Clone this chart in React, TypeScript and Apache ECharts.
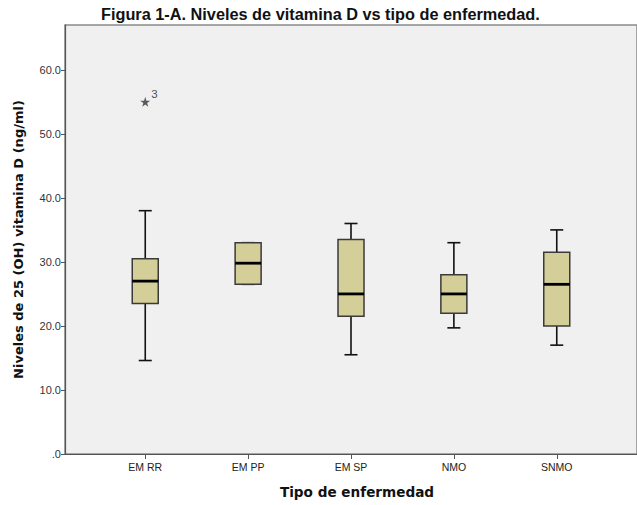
import React, { useEffect, useRef } from "react";
import * as echarts from "echarts";

const categories = ["EM RR", "EM PP", "EM SP", "NMO", "SNMO"];
const whiskerLow = [14.6, 26.5, 15.5, 19.7, 17.0];
const quartile1 = [23.5, 26.5, 21.5, 22.0, 20.0];
const medians = [27.0, 29.8, 25.0, 25.0, 26.5];
const quartile3 = [30.5, 33.0, 33.5, 28.0, 31.5];
const whiskerHigh = [38.0, 33.0, 36.0, 33.0, 35.0];
const outlierCategory = [0];
const outlierValues = [55.0];
const outlierLabels = ["3"];
const yTicks = [0, 10, 20, 30, 40, 50, 60];

const FONT = "'Liberation Sans', Arial, sans-serif";
const NAME_FONT = "'DejaVu Sans', Verdana, sans-serif";
const STAR =
  "path://M50,0 L61,35 L98,35 L68,57 L79,91 L50,70 L21,91 L32,57 L2,35 L39,35 Z";

export default function App() {
  const ref = useRef<HTMLDivElement>(null);
  useEffect(() => {
    document.body.style.margin = "0";
    const chart = echarts.init(ref.current!, null, { renderer: "svg" });
    const boxData = categories.map((_, i) => [
      i,
      whiskerLow[i],
      quartile1[i],
      medians[i],
      quartile3[i],
      whiskerHigh[i],
    ]);
    const outData = outlierCategory.map((c, i) => ({
      value: [c, outlierValues[i]],
      label: { formatter: outlierLabels[i] },
    }));
    chart.setOption({
      animation: false,
      backgroundColor: "#ffffff",
      textStyle: { fontFamily: FONT },
      title: {
        text: "Figura 1-A. Niveles de vitamina D vs tipo de enfermedad.",
        left: 96,
        top: 1,
        textStyle: { fontFamily: FONT, fontSize: 16.3, fontWeight: "bold", color: "#111" },
      },
      grid: {
        left: 65,
        right: -4,
        top: 25,
        bottom: 51,
        show: true,
        backgroundColor: "#f0f0f0",
        borderColor: "#8a8a8a",
        borderWidth: 1.5,
      },
      xAxis: {
        type: "value",
        min: -0.78,
        max: 4.78,
        name: "Tipo de enfermedad",
        nameLocation: "middle",
        nameGap: 31,
        nameTextStyle: {
          fontFamily: NAME_FONT,
          fontSize: 13.6,
          fontWeight: "bold",
          color: "#111",
          padding: [0, 0, 0, 12],
        },
        splitLine: { show: false },
        axisLine: { show: true, onZero: false, lineStyle: { color: "#555", width: 1.2 } },
        axisTick: {
          show: true,
          length: 5,
          customValues: categories.map((_, i) => i),
          lineStyle: { color: "#555" },
        },
        axisLabel: {
          customValues: categories.map((_, i) => i),
          formatter: (v: number) => categories[Math.round(v)] ?? "",
          fontFamily: FONT,
          fontSize: 10.5,
          color: "#222",
          margin: 7,
        },
      },
      yAxis: {
        type: "value",
        min: 0,
        max: 67,
        name: "Niveles de 25 (OH) vitamina D (ng/ml)",
        nameLocation: "middle",
        nameGap: 40,
        nameTextStyle: { fontFamily: NAME_FONT, fontSize: 13, fontWeight: "bold", color: "#111" },
        splitLine: { show: false },
        axisLine: { show: true, onZero: false, lineStyle: { color: "#555", width: 1.2 } },
        axisTick: { show: true, length: 4, customValues: yTicks, lineStyle: { color: "#555" } },
        axisLabel: {
          customValues: yTicks,
          formatter: (v: number) => (v === 0 ? ".0" : v.toFixed(1)),
          fontFamily: FONT,
          fontSize: 11,
          color: "#333",
          margin: 4,
        },
      },
      series: [
        {
          type: "custom",
          data: boxData,
          encode: { x: 0, y: [1, 2, 3, 4, 5] },
          renderItem: (params: any, api: any) => {
            const x = api.value(0);
            const lo = api.coord([x, api.value(1)]);
            const p1 = api.coord([x, api.value(2)]);
            const md = api.coord([x, api.value(3)]);
            const p3 = api.coord([x, api.value(4)]);
            const hi = api.coord([x, api.value(5)]);
            const cx = lo[0];
            const bw = 26;
            const cw = 13;
            const wStyle = { stroke: "#111", lineWidth: 1.6 };
            return {
              type: "group",
              children: [
                { type: "line", shape: { x1: cx, y1: hi[1], x2: cx, y2: p3[1] }, style: wStyle },
                { type: "line", shape: { x1: cx, y1: lo[1], x2: cx, y2: p1[1] }, style: wStyle },
                { type: "line", shape: { x1: cx - cw / 2, y1: hi[1], x2: cx + cw / 2, y2: hi[1] }, style: wStyle },
                { type: "line", shape: { x1: cx - cw / 2, y1: lo[1], x2: cx + cw / 2, y2: lo[1] }, style: wStyle },
                {
                  type: "rect",
                  shape: { x: cx - bw / 2, y: p3[1], width: bw, height: p1[1] - p3[1] },
                  style: { fill: "#d4cf99", stroke: "#3a3a3a", lineWidth: 1.5 },
                },
                {
                  type: "line",
                  shape: { x1: cx - bw / 2, y1: md[1], x2: cx + bw / 2, y2: md[1] },
                  style: { stroke: "#000", lineWidth: 2.8 },
                },
              ],
            };
          },
        },
        {
          type: "scatter",
          data: outData,
          symbol: STAR,
          symbolSize: 10,
          itemStyle: { color: "#333" },
          label: {
            show: true,
            position: "right",
            distance: 1,
            offset: [0, -8],
            fontFamily: FONT,
            fontSize: 11.5,
            color: "#222",
          },
        },
      ],
    });
    return () => chart.dispose();
  }, []);
  return <div ref={ref} style={{ width: 637, height: 505 }} />;
}
